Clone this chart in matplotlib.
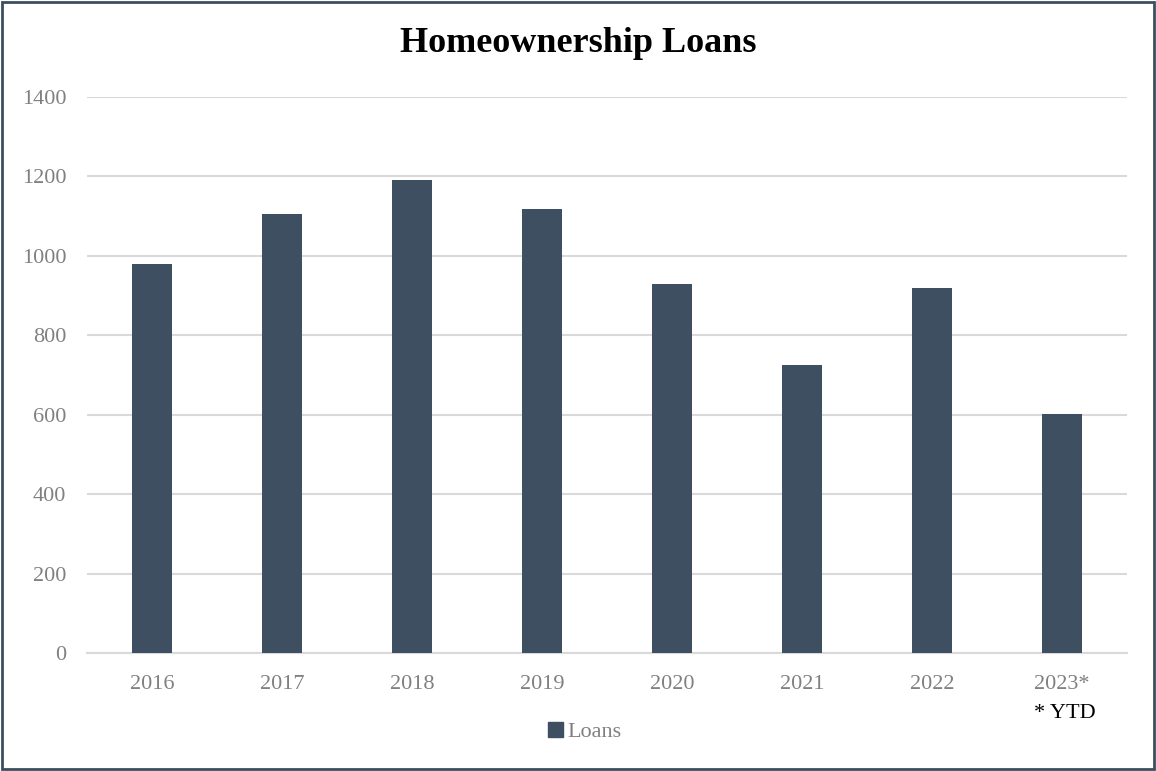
import matplotlib
matplotlib.use("Agg")
import matplotlib.pyplot as plt
from matplotlib.patches import Rectangle, Patch

years = ["2016", "2017", "2018", "2019", "2020", "2021", "2022", "2023*"]
loans = [980, 1105, 1190, 1118, 930, 725, 920, 602]
yticks = [0, 200, 400, 600, 800, 1000, 1200, 1400]

bar_color = "#3D4F60"
grid_color = "#D9D9D9"
tick_color = "#808080"

plt.rcParams['font.family'] = ['Liberation Serif', 'DejaVu Serif']

fig = plt.figure(figsize=(11.56, 7.71), dpi=100)
ax = fig.add_axes([87/1156, 1-653/771, (1127-87)/1156, (653-97)/771])

x = range(len(years))
ax.bar(x, loans, width=0.315, color=bar_color, zorder=3)
ax.set_xlim(-0.5, len(years)-0.5)
ax.set_ylim(0, 1400)
ax.set_yticks(yticks)
ax.set_xticks(list(x))
ax.set_xticklabels(years)
ax.yaxis.grid(True, color=grid_color, linewidth=1.5, zorder=0)
ax.set_axisbelow(True)
for s in ["top", "right", "left"]:
    ax.spines[s].set_visible(False)
ax.spines["bottom"].set_color(grid_color)
ax.spines["bottom"].set_linewidth(1.5)
ax.tick_params(axis='both', length=0, labelsize=16, colors=tick_color)
ax.tick_params(axis='x', pad=16)
ax.tick_params(axis='y', pad=15)

fig.text(0.5, 1-43/771, "Homeownership Loans", ha='center', va='center',
         fontsize=26, fontweight='bold', color='black')
fig.text(1065/1156, 1-713/771, "* YTD", ha='center', va='center', fontsize=16, color='black')

leg = fig.legend(handles=[Patch(color=bar_color, label="Loans")], loc='center',
                 bbox_to_anchor=(585/1156, 1-732/771), frameon=False, fontsize=16,
                 handlelength=0.65, handleheight=0.65, handletextpad=0.2)
for t in leg.get_texts():
    t.set_color(tick_color)

fig.patches.append(Rectangle((0.002, 0.003), 0.996, 0.994, transform=fig.transFigure,
                             fill=False, edgecolor="#3B4E60", linewidth=2))

fig.savefig("out.png", dpi=100)
